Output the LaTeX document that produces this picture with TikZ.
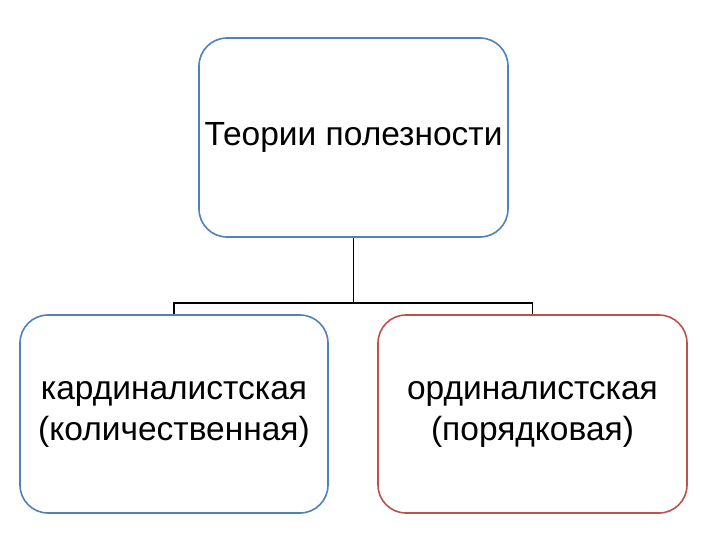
\documentclass[tikz,border=0pt]{standalone}
\usepackage{fontspec}
\setmainfont{Liberation Sans}
\begin{document}
\begin{tikzpicture}[x=1pt,y=-1pt,
  box/.style={draw=#1,line width=1.6pt,rounded corners=28pt,fill=white,align=center,inner sep=0pt,font=\fontsize{33.5}{41}\selectfont},
  conn/.style={draw=black,line width=1.5pt}]
\useasboundingbox (0,0) rectangle (720,540);
\definecolor{bblue}{HTML}{4F81BD}
\definecolor{rred}{HTML}{C0504D}
\node[box=bblue,minimum width=309pt,minimum height=199pt] (top) at (353.5,137.5) {Теории полезности};
\node[box=bblue,minimum width=308pt,minimum height=198pt] (left) at (174,414) {кардиналистская\\(количественная)};
\node[box=rred,minimum width=309pt,minimum height=198pt] (right) at (532.5,414) {ординалистская\\(порядковая)};
\coordinate (j) at (353.5,303);
\draw[conn] (top.south) -- (j);
\draw[conn] (left.north) -- (left.north |- j) -- (right.north |- j) -- (right.north);
\end{tikzpicture}
\end{document}
